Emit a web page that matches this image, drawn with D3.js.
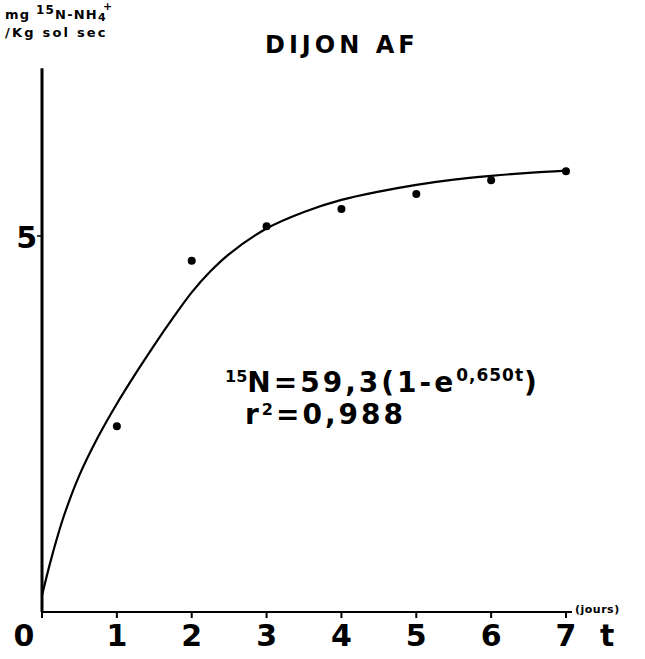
<!DOCTYPE html>
<html><head><meta charset="utf-8">
<script src="https://cdn.jsdelivr.net/npm/d3@7"></script>
<style>body{margin:0;background:#fff}svg{display:block}text{font-family:"DejaVu Sans",Arial,sans-serif;font-weight:bold;fill:#000}</style>
</head><body>
<script>
const days = [1, 2, 3, 4, 5, 6, 7];
const measured = [2.47, 4.67, 5.13, 5.36, 5.56, 5.74, 5.86];
const curveT = [0, 0.1, 0.2, 0.3, 0.5, 0.75, 1, 1.25, 1.5, 1.75, 2, 2.25, 2.5, 3, 3.5, 4, 4.5, 5, 5.5, 6, 6.5, 7];
const curveV = [0.22, 0.62, 0.98, 1.3, 1.82, 2.33, 2.77, 3.17, 3.55, 3.91, 4.25, 4.53, 4.76, 5.1, 5.32, 5.48, 5.59, 5.68, 5.75, 5.8, 5.84, 5.87];
const xTicks = [0, 1, 2, 3, 4, 5, 6, 7];
const yTicks = [5];

const W = 645, H = 659;
const svg = d3.select("body").append("svg").attr("width", W).attr("height", H);
const x = d3.scaleLinear().domain([0, 7]).range([42, 566]);
const y = d3.scaleLinear().domain([0, 5]).range([612, 236]);

// axes lines
svg.append("line").attr("x1", x(0)).attr("x2", x(7.08)).attr("y1", y(0)).attr("y2", y(0))
  .attr("stroke", "#000").attr("stroke-width", 2);
svg.append("line").attr("x1", x(0)).attr("x2", x(0)).attr("y1", y(0)).attr("y2", y(7.23))
  .attr("stroke", "#000").attr("stroke-width", 3);

// x ticks
svg.selectAll(".xt").data(xTicks).enter().append("line")
  .attr("x1", d => x(d)).attr("x2", d => x(d)).attr("y1", y(0)).attr("y2", y(0) + 6)
  .attr("stroke", "#000").attr("stroke-width", 2);
svg.selectAll(".xl").data(xTicks).enter().append("text")
  .attr("x", d => x(d) - (d === 0 ? 18 : 0)).attr("y", 646)
  .attr("text-anchor", "middle").attr("font-size", 30).text(d => d);

// y ticks
svg.selectAll(".yt").data(yTicks).enter().append("line")
  .attr("x1", x(0) - 5).attr("x2", x(0)).attr("y1", d => y(d)).attr("y2", d => y(d))
  .attr("stroke", "#000").attr("stroke-width", 1.5);
svg.selectAll(".yl").data(yTicks).enter().append("text")
  .attr("x", x(0) - 5).attr("y", d => y(d) + 12).attr("text-anchor", "end")
  .attr("font-size", 30).text(d => d);

// axis labels
svg.append("text").attr("x", 575).attr("y", 613).attr("font-size", 11)
  .attr("letter-spacing", 0.5).text("(jours)");
svg.append("text").attr("x", 600).attr("y", 646).attr("font-size", 30).text("t");

const yl = svg.append("text").attr("x", 5).attr("y", 19).attr("font-size", 13).attr("letter-spacing", 1.2);
yl.append("tspan").text("mg ");
yl.append("tspan").attr("dy", -5).attr("font-size", 12).text("15");
yl.append("tspan").attr("dy", 5).text("N-NH");
yl.append("tspan").attr("dy", 2).attr("font-size", 11).text("4");
svg.append("text").attr("x", 103).attr("y", 10).attr("font-size", 11).text("+");
svg.append("text").attr("x", 5).attr("y", 37).attr("font-size", 13)
  .attr("letter-spacing", 2.2).text("/Kg sol sec");

svg.append("text").attr("x", 265).attr("y", 53)
  .attr("font-size", 24).attr("letter-spacing", 4).text("DIJON AF");

// equation
const eq = svg.append("text").attr("x", 225).attr("y", 392).attr("font-size", 28).attr("letter-spacing", 3);
eq.append("tspan").attr("font-size", 16).attr("letter-spacing", 0).attr("dy", -10).text("15");
eq.append("tspan").attr("dy", 10).text("N=59,3(1-e");
eq.append("tspan").attr("font-size", 17).attr("letter-spacing", 1).attr("dy", -11).text("0,650t");
eq.append("tspan").attr("dy", 11).text(")");
const r2 = svg.append("text").attr("x", 245).attr("y", 424).attr("font-size", 28).attr("letter-spacing", 3);
r2.append("tspan").text("r");
r2.append("tspan").attr("font-size", 16).attr("dy", -9).text("2");
r2.append("tspan").attr("dy", 9).text("=0,988");

// curve
const line = d3.line().x((d, i) => x(curveT[i])).y(d => y(d)).curve(d3.curveCatmullRom);
svg.append("path").datum(curveV).attr("d", line).attr("fill", "none")
  .attr("stroke", "#000").attr("stroke-width", 2.2);

// points
svg.selectAll(".pt").data(measured).enter().append("circle")
  .attr("cx", (d, i) => x(days[i])).attr("cy", d => y(d)).attr("r", 4).attr("fill", "#000");
</script>
</body></html>
